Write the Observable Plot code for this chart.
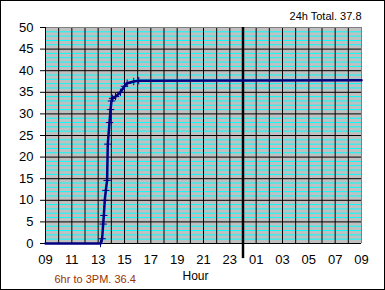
<!DOCTYPE html>
<html>
<head>
<meta charset="utf-8">
<script src="https://cdn.jsdelivr.net/npm/d3@7"></script>
<script src="https://cdn.jsdelivr.net/npm/@observablehq/plot@0.6"></script>
<style>
  html, body { margin: 0; padding: 0; background: white; }
</style>
</head>
<body>
<div id="chart"></div>
<script>
// Cumulative rainfall (hours from 09:00; values past 24 are next day)
const hours = [9, 13.18, 13.3, 13.38, 13.43, 13.5, 13.58, 13.68, 13.73, 13.86, 13.94, 14.01, 14.1, 14.32, 14.69, 15.0, 15.2, 15.7, 16.08, 33];
const rain  = [0, 0, 1.1, 4.5, 6.5, 10, 12.3, 14.6, 23, 28, 31, 33, 33.6, 34, 35, 36.4, 37.1, 37.5, 37.7, 37.8];

const hourTicks  = [9, 11, 13, 15, 17, 19, 21, 23, 25, 27, 29, 31, 33];
const tickLabels = ["09", "11", "13", "15", "17", "19", "21", "23", "01", "03", "05", "07", "09"];
const yTicks = [0, 5, 10, 15, 20, 25, 30, 35, 40, 45, 50];
const midnight = 24;

const totalLabel = "24h Total. 37.8";
const partLabel = "6hr to 3PM. 36.4";
const xLabel = "Hour";

const data = hours.map((h, i) => ({h, v: rain[i]}));
const gridHours = d3.range(9, 34);
const minorY = d3.range(0, 51).filter(v => v % 5 !== 0);

const chart = Plot.plot({
  width: 385,
  height: 290,
  marginLeft: 45,
  marginRight: 24,
  marginTop: 27,
  marginBottom: 47,
  style: {fontFamily: "'Liberation Sans', Arial, sans-serif", fontSize: "13px", background: "white", color: "black", overflow: "visible"},
  x: {domain: [9, 33]},
  y: {domain: [0, 50]},
  marks: [
    Plot.frame({fill: "#c0c0c0", stroke: null}),
    Plot.ruleY(minorY, {stroke: "#00ffff", strokeWidth: 1}),
    Plot.ruleY(yTicks, {stroke: "black", strokeWidth: 1}),
    Plot.ruleX(gridHours, {stroke: "black", strokeWidth: 1}),
    Plot.ruleY([50], {stroke: "#808080"}),
    Plot.ruleX([33], {stroke: "#808080"}),
    Plot.ruleX([9], {stroke: "black"}),
    Plot.axisY({ticks: yTicks, tickSize: 5, tickPadding: 7, fontSize: 13, label: null}),
    Plot.axisX({ticks: hourTicks, tickFormat: d => tickLabels[hourTicks.indexOf(d)], tickSize: 0, tickPadding: 11, fontSize: 13, label: null}),
    Plot.ruleX([midnight], {y1: -3.5, y2: 50, stroke: "black", strokeWidth: 2.5}),
    Plot.line(data, {x: "h", y: "v", stroke: "#000080", strokeWidth: 2.5}),
    Plot.dot(data.slice(1, -1), {x: "h", y: "v", symbol: "plus", r: 2.5, stroke: "#000080", strokeWidth: 1}),
    Plot.text([totalLabel], {frameAnchor: "top-right", textAnchor: "end", lineAnchor: "middle", dy: -11, fontSize: 11, fill: "black"}),
    Plot.text([partLabel], {frameAnchor: "bottom-left", textAnchor: "start", lineAnchor: "middle", dx: 9, dy: 36, fontSize: 11, fill: "#993300"}),
    Plot.text([xLabel], {frameAnchor: "bottom", lineAnchor: "middle", dx: -8, dy: 33, fontSize: 12, fill: "black"})
  ]
});
chart.style.outline = "1px solid black";
chart.style.outlineOffset = "-1px";
document.getElementById("chart").appendChild(chart);
</script>
</body>
</html>
